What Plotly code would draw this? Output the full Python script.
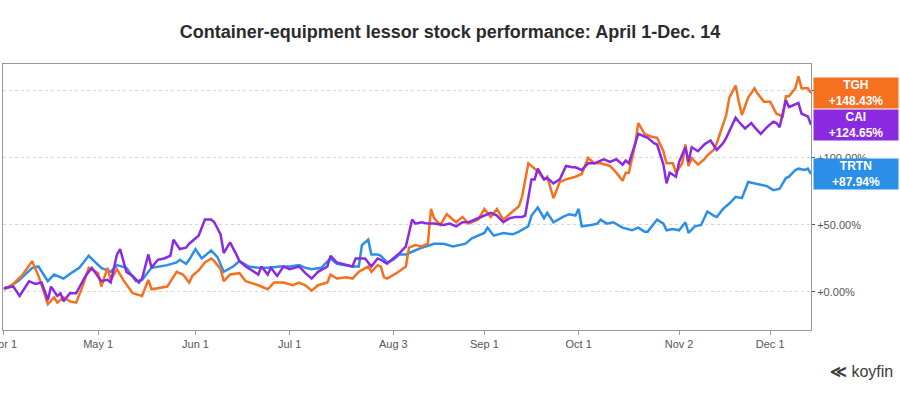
import pandas as pd
import plotly.graph_objects as go

START = pd.Timestamp("2020-04-01")

# days after April 1, 2020 and cumulative return in percent
trtn_days = [0, 2, 5, 9, 11, 14, 16, 19, 22, 24, 27, 31, 34, 36, 39, 42, 44, 47, 52, 55,
             56, 58, 59, 61, 63, 66, 68, 70, 73, 75, 78, 81, 84, 88, 91, 94, 96, 98, 101, 104,
             106, 109, 111, 113, 114, 116, 117, 119, 120, 122, 124, 126, 128, 130, 133, 137, 140, 143, 147, 149,
             153, 154, 156, 159, 162, 164, 167, 168, 170, 172, 173, 175, 178, 180, 182, 183, 184, 187, 189, 190,
             192, 194, 197, 200, 202, 204, 205, 208, 210, 211, 213, 215, 217, 218, 220, 222, 224, 226, 227, 229,
             231, 233, 235, 237, 239, 241, 243, 245, 247, 249, 250, 252, 253, 255, 256, 257]
trtn_pct = [2, 4, 9, 18, 19, 8, 13, 10, 15, 18, 27, 18, 15, 20, 18, 8, 9, 18, 20, 22,
            24, 21, 24, 32, 25, 31, 26, 15, 19, 23, 19, 18, 18, 19, 19, 20, 18, 17, 18, 25,
            21, 20, 19, 19, 35, 39, 28, 28, 27, 22, 24, 28, 28, 30, 33, 36, 36, 34, 36, 40,
            44, 48, 42, 44, 43, 45, 49, 57, 63, 55, 59, 52, 56, 58, 57, 62, 49, 50, 51, 54,
            51, 52, 48, 46, 48, 45, 45, 54, 51, 46, 47, 46, 52, 44, 49, 50, 60, 57, 56, 62,
            66, 71, 70, 82, 81, 80, 79, 76, 77, 85, 86, 91, 92, 91, 92, 87.94]

tgh_days = [0, 3, 6, 9, 11, 14, 16, 17, 19, 21, 23, 25, 27, 30, 31, 33, 34, 36, 38, 41,
            44, 46, 47, 51, 52, 55, 57, 59, 60, 62, 64, 66, 67, 69, 70, 72, 75, 77, 81, 84,
            86, 89, 92, 94, 96, 98, 100, 103, 104, 106, 109, 111, 113, 116, 117, 119, 120, 121, 122, 125,
            128, 129, 131, 133, 135, 136, 137, 139, 141, 144, 146, 148, 151, 153, 155, 157, 159, 162, 164, 165,
            167, 168, 170, 172, 173, 175, 177, 179, 182, 184, 186, 188, 190, 193, 195, 197, 198, 199, 201, 202,
            204, 206, 208, 210, 211, 213, 214, 216, 217, 218, 219, 221, 223, 224, 226, 227, 230, 231, 233, 234,
            235, 237, 239, 240, 242, 244, 246, 248, 249, 250, 252, 253, 254, 256, 257]
tgh_pct = [2, 6, 13, 23, 12, -9, -4, -8, -4, -7, -8, 4, 18, 14, 4, 18, 9, 17, 9, -1,
           -3, 9, 2, 4, 4, 15, 13, 7, 12, 16, 22, 25, 23, 17, 8, 13, 14, 8, 5, 2,
           7, 7, 5, 7, 5, 1, 5, 7, 13, 10, 11, 10, 15, 19, 15, 20, 19, 11, 10, 14,
           19, 33, 35, 34, 36, 62, 55, 50, 58, 52, 56, 51, 54, 62, 56, 62, 54, 60, 64, 71,
           96, 94, 90, 84, 86, 70, 82, 84, 86, 88, 100, 96, 96, 94, 89, 83, 89, 89, 110, 126,
           118, 116, 115, 105, 96, 96, 89, 96, 110, 94, 100, 95, 99, 102, 106, 111, 132, 145, 154, 142,
           132, 145, 152, 148, 142, 142, 133, 131, 146, 146, 152, 161, 152, 152, 148.43]

cai_days = [0, 3, 5, 8, 10, 12, 14, 15, 17, 18, 19, 21, 23, 26, 28, 31, 33, 34, 36, 37,
            39, 41, 43, 44, 46, 47, 49, 51, 53, 54, 56, 58, 59, 61, 62, 64, 66, 67, 69, 70,
            72, 74, 75, 77, 81, 82, 84, 85, 87, 89, 91, 94, 96, 98, 100, 103, 104, 106, 109, 111,
            112, 115, 117, 119, 120, 122, 126, 128, 130, 131, 133, 135, 137, 140, 142, 144, 146, 148, 151, 152,
            155, 157, 159, 161, 163, 165, 166, 168, 169, 170, 172, 173, 175, 177, 179, 181, 182, 184, 186, 188,
            189, 191, 193, 195, 197, 198, 199, 202, 204, 205, 207, 208, 210, 211, 212, 214, 215, 217, 218, 219,
            221, 223, 225, 227, 229, 230, 233, 234, 236, 238, 239, 241, 243, 245, 246, 247, 249, 250, 253, 254,
            256, 257]
cai_pct = [3, 4, -3, 8, 6, 7, -6, 4, -3, -1, -7, -1, -1, 12, 18, 8, 9, 7, 28, 32,
           15, 12, 7, 10, 28, 18, 24, 25, 27, 39, 32, 33, 36, 40, 42, 54, 54, 52, 43, 29,
           37, 28, 23, 19, 13, 19, 13, 18, 12, 19, 17, 19, 14, 10, 15, 19, 27, 22, 20, 19,
           25, 25, 19, 25, 24, 21, 29, 34, 54, 51, 52, 51, 51, 50, 51, 49, 52, 52, 55, 56,
           59, 57, 52, 55, 56, 56, 57, 84, 84, 92, 84, 85, 81, 84, 94, 93, 93, 91, 96, 96,
           97, 99, 97, 99, 95, 98, 96, 118, 116, 115, 111, 110, 95, 81, 89, 86, 97, 108, 97, 108,
           105, 110, 113, 106, 111, 115, 130, 127, 122, 126, 123, 118, 123, 127, 126, 123, 143, 138, 141, 133,
           131, 124.65]

tick_dates = ["2020-04-01", "2020-05-01", "2020-06-01", "2020-07-01", "2020-08-03",
              "2020-09-01", "2020-10-01", "2020-11-02", "2020-12-01"]
tick_text = ["Apr 1", "May 1", "Jun 1", "Jul 1", "Aug 3", "Sep 1", "Oct 1", "Nov 2", "Dec 1"]
y_ticks = [0, 50, 100, 150]
y_text = ["+0.00%", "+50.00%", "+100.00%", "+150.00%"]

series = [
    ("TRTN", trtn_days, trtn_pct, "#2b8fe8"),
    ("TGH", tgh_days, tgh_pct, "#f5701f"),
    ("CAI", cai_days, cai_pct, "#8a2be2"),
]

FONT = "Liberation Sans, Arial, sans-serif"

fig = go.Figure()
for name, days, pct, color in series:
    dates = START + pd.to_timedelta(days, unit="D")
    fig.add_trace(go.Scatter(x=dates, y=pct, mode="lines", name=name,
                             line=dict(color=color, width=2.5)))

for name, days, pct, color in series:
    fig.add_annotation(
        x=1.002, xref="paper", xanchor="left", y=pct[-1], yref="y", yanchor="middle",
        text=f"<b>{name}<br>+{pct[-1]:.2f}%</b>", showarrow=False, align="center",
        font=dict(family=FONT, size=12, color="white"),
        bgcolor=color, width=82, height=28, borderpad=1,
    )

fig.add_annotation(
    x=1.104, xref="paper", xanchor="right", y=-0.155, yref="paper", yanchor="middle",
    text="<b>≪</b> koyfin", showarrow=False,
    font=dict(family=FONT, size=16, color="#3a3a3a"),
)

fig.update_layout(
    width=900, height=400,
    margin=dict(l=3, r=89, t=64, b=70, autoexpand=False),
    paper_bgcolor="white", plot_bgcolor="white",
    showlegend=False,
    title=dict(text="<b>Container-equipment lessor stock performance: April 1-Dec. 14</b>",
               x=0.5, xref="container", xanchor="center", y=0.92, yref="container", yanchor="middle",
               font=dict(family=FONT, size=18, color="#2b2b2b")),
    xaxis=dict(type="date", range=["2020-03-31 17:00", "2020-12-14"], automargin=False,
               tickvals=tick_dates, ticktext=tick_text, ticklabeloverflow="allow",
               ticks="outside", ticklen=4, tickcolor="#999",
               tickfont=dict(family=FONT, size=11, color="#555"),
               showgrid=False, showline=True, linecolor="#999", linewidth=1, mirror=True,
               zeroline=False),
    yaxis=dict(side="right", range=[-28.4, 170.1], automargin=False,
               tickvals=y_ticks, ticktext=y_text,
               ticks="outside", ticklen=3, tickcolor="#555",
               tickfont=dict(family=FONT, size=11, color="#555"),
               showgrid=True, gridcolor="#d6d6d6", griddash="dot", gridwidth=1,
               showline=True, linecolor="#999", linewidth=1, mirror=True, zeroline=False),
)

fig.write_html("out.html", config={"displayModeBar": False},
               post_script="document.body.style.margin='0';")
